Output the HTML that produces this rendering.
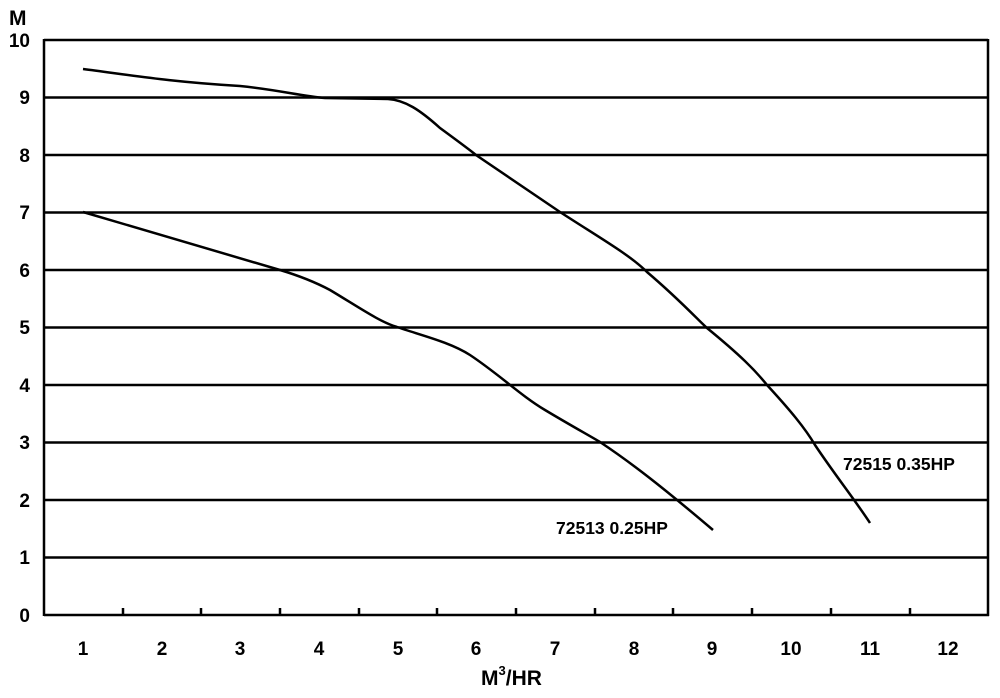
<!DOCTYPE html>
<html><head><style>body{margin:0;background:#fff}</style></head><body>
<svg width="1000" height="693" xmlns="http://www.w3.org/2000/svg" font-family="Liberation Sans, sans-serif" font-weight="bold">
<g stroke="#000" stroke-width="2.5" fill="none">
<line x1="44" y1="40" x2="988" y2="40"/>
<line x1="44" y1="97.5" x2="988" y2="97.5"/>
<line x1="44" y1="155" x2="988" y2="155"/>
<line x1="44" y1="212.5" x2="988" y2="212.5"/>
<line x1="44" y1="270" x2="988" y2="270"/>
<line x1="44" y1="327.5" x2="988" y2="327.5"/>
<line x1="44" y1="385" x2="988" y2="385"/>
<line x1="44" y1="442.5" x2="988" y2="442.5"/>
<line x1="44" y1="500" x2="988" y2="500"/>
<line x1="44" y1="557.5" x2="988" y2="557.5"/>
<line x1="44" y1="615" x2="989" y2="615"/>
<line x1="44" y1="39" x2="44" y2="616"/>
<line x1="988" y1="39" x2="988" y2="616"/>
<path d="M123 615v-7M201 615v-7M280 615v-7M359 615v-7M437 615v-7M516 615v-7M595 615v-7M673 615v-7M752 615v-7M831 615v-7M910 615v-7"/>
<path d="M83 69 C130 75 170 82 240 86 C280 90 300 96 325 98 L388 99 C405 100 420 110 440 128 C470 150 476 155 476 155 L560 212 C600 238 630 255 647 272 C680 300 700 322 707 328 C740 355 755 370 767 385 C790 410 805 428 815 445 C835 475 855 500 870 523"/>
<path d="M83 212 L280 270 C300 276 315 282 330 290 C360 308 380 322 397 327 C420 335 450 342 470 355 C500 375 520 395 545 410 C570 425 590 436 600 442 C630 462 660 485 713 530"/>
</g>
<g font-size="19" text-anchor="end">
<text x="30" y="47">10</text><text x="30" y="104">9</text><text x="30" y="162">8</text><text x="30" y="219">7</text><text x="30" y="277">6</text><text x="30" y="334">5</text><text x="30" y="392">4</text><text x="30" y="449">3</text><text x="30" y="507">2</text><text x="30" y="564">1</text><text x="30" y="622">0</text>
</g>
<text x="9" y="25" font-size="21">M</text>
<g font-size="19" text-anchor="middle">
<text x="83" y="655">1</text><text x="162" y="655">2</text><text x="240" y="655">3</text><text x="319" y="655">4</text><text x="398" y="655">5</text><text x="476" y="655">6</text><text x="555" y="655">7</text><text x="634" y="655">8</text><text x="712" y="655">9</text><text x="791" y="655">10</text><text x="870" y="655">11</text><text x="948" y="655">12</text>
</g>
<text x="481" y="685" font-size="21">M<tspan font-size="13" dy="-10">3</tspan><tspan dy="10">/HR</tspan></text>
<text x="556" y="534" font-size="17.5">72513 0.25HP</text>
<text x="843" y="470" font-size="17.5">72515 0.35HP</text>
</svg>
</body></html>
